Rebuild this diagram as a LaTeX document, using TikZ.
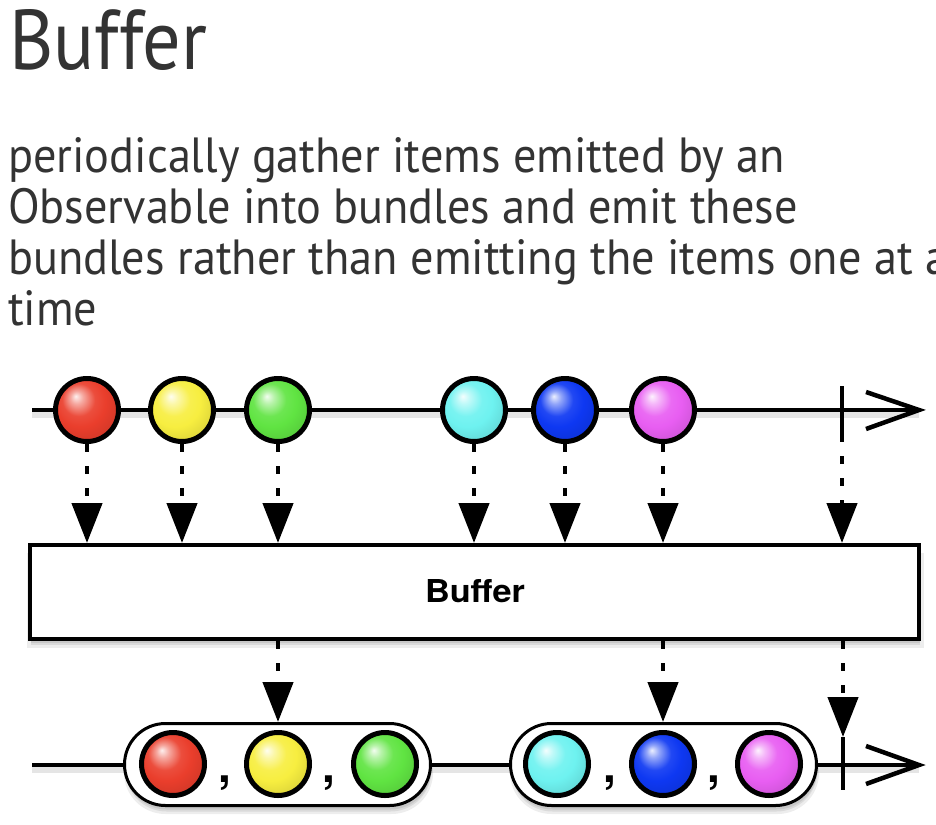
\documentclass[tikz,border=0pt]{standalone}
\usepackage{fontspec}
\setmainfont{PT Sans}
\newfontfamily\heros{TeX Gyre Heros}
\usetikzlibrary{arrows.meta,shadows}
\definecolor{txt}{HTML}{333333}
\definecolor{cRed}{RGB}{234,62,44}
\definecolor{cYel}{RGB}{247,238,64}
\definecolor{cGrn}{RGB}{96,228,66}
\definecolor{cCya}{RGB}{110,242,240}
\definecolor{cBlu}{RGB}{14,56,242}
\definecolor{cMag}{RGB}{232,94,242}
\colorlet{mball}{red}
\pgfdeclareradialshading[mball]{marble}{\pgfqpoint{-9bp}{11bp}}{%
  color(0bp)=(mball!8!white);
  color(5bp)=(mball!45!white);
  color(13bp)=(mball!92!white);
  color(20bp)=(mball);
  color(30bp)=(mball!90!black);
  color(50bp)=(mball!72!black)}
\newlength\Lw
\newlength\Lh
\newcommand\bodyf{\fontsize{46pt}{50pt}\selectfont}
\tikzset{
  marble/.style={circle, draw=black, line width=5pt, minimum size=#1, inner sep=0pt, shade, shading=marble},
  mc/.code={\colorlet{mball}{#1}},
  txtnode/.style={anchor=base west, inner sep=0pt, text=txt},
  softsh/.style={
    general shadow={fill=black, opacity=.07, shadow xshift=1pt, shadow yshift=-8pt, shadow scale=1.01},
    general shadow={fill=black, opacity=.08, shadow xshift=1pt, shadow yshift=-6pt},
    general shadow={fill=black, opacity=.08, shadow xshift=1pt, shadow yshift=-4pt}},
  bundle/.style={draw, line width=3pt, fill=white, rounded corners=41pt, inner sep=0pt, minimum width=306pt, minimum height=82pt, softsh},
  tline/.style={line width=4pt},
  lsh/.style={line width=8pt, draw=black, opacity=.10},
  chev/.style={line width=4.5pt, line join=miter},
  tick/.style={line width=4.5pt},
  dar/.style={line width=4.5pt, dash pattern=on 8pt off 14pt, -{Triangle[width=30pt,length=40pt]}},
  comma/.style={anchor=north, inner sep=0pt, font={\heros\bfseries\fontsize{46pt}{46pt}\selectfont}}
}
\begin{document}
\settowidth\Lw{\bodyf periodically gather items emitted by an}%
\settoheight\Lh{\bodyf periodically gather items emitted by an}%
\pgfmathsetmacro\bxs{777/\Lw}%
\pgfmathsetmacro\bys{35/\Lh}%
\begin{tikzpicture}[x=1pt,y=-1pt]
\useasboundingbox (0,0) rectangle (936,824);
\clip (0,0) rectangle (936,824);
\fill[white] (0,0) rectangle (936,824);

% ---------- texts ----------
\node[txtnode] (title) at (9,70) {\resizebox{198pt}{60pt}{Buffer}};
\node[txtnode] (l1) at (8,172) {\scalebox{\bxs}[\bys]{\bodyf periodically gather items emitted by an}};
\node[txtnode] (l2) at (8,223) {\scalebox{\bxs}[\bys]{\bodyf Observable into bundles and emit these}};
\node[txtnode] (l3) at (8,274) {\scalebox{\bxs}[\bys]{\bodyf bundles rather than emitting the items one at a}};
\node[txtnode] (l4) at (8,325) {\scalebox{\bxs}[\bys]{\bodyf time}};

% ---------- top timeline ----------
\coordinate (s1) at (32,410);
\coordinate (e1) at (919,410);
\coordinate (tk1t) at (842,386);
\coordinate (tk1b) at (842,442);
\draw[lsh] ([yshift=-4pt]s1) -- ([yshift=-4pt]e1);
\draw[tline] (s1) -- (e1);
\draw[chev] (e1) ++(-53,-18) -- (e1) -- ++(-53,19);
\draw[tick] (tk1t) -- (tk1b);

\node[marble=63pt, mc=cRed] (t1) at (87,410) {};
\node[marble=63pt, mc=cYel] (t2) at (182,410) {};
\node[marble=63pt, mc=cGrn] (t3) at (278,410) {};
\node[marble=63pt, mc=cCya] (t4) at (474,410) {};
\node[marble=63pt, mc=cBlu] (t5) at (565,410) {};
\node[marble=63pt, mc=cMag] (t6) at (663,410) {};

% ---------- operator box ----------
\node[draw, line width=4pt, fill=white, minimum width=889pt, minimum height=94pt, inner sep=0pt, softsh] (buf) at (474.5,592) {};
\node[inner sep=0pt, anchor=base] (buflbl) at (475,602) {\resizebox{100pt}{23pt}{\heros\bfseries Buffer}};

% ---------- arrows into the box ----------
\foreach \m in {t1,t2,t3,t4,t5,t6}{
  \draw[dar] (\m.south) -- (\m.south |- buf.north);
}
\draw[dar, dash phase=8pt] (tk1b) -- (tk1b |- buf.north);

% ---------- bottom timeline ----------
\coordinate (s2) at (32,765);
\coordinate (e2) at (919,765);
\coordinate (tk2t) at (843,737);
\coordinate (tk2b) at (843,790);
\draw[lsh] ([yshift=-4pt]s2) -- ([yshift=-4pt]e2);
\draw[tline] (s2) -- (e2);
\draw[chev] (e2) ++(-53,-19) -- (e2) -- ++(-53,19);
\draw[tick] (tk2t) -- (tk2b);

\node[bundle] (bd1) at (277.5,764.5) {};
\node[bundle] (bd2) at (663.5,764.5) {};

\node[marble=63pt, mc=cRed] (b1) at (173,764) {};
\node[marble=63pt, mc=cYel] (b2) at (278,764) {};
\node[marble=63pt, mc=cGrn] (b3) at (385,764) {};
\node[marble=63pt, mc=cCya] (b4) at (557,764) {};
\node[marble=63pt, mc=cBlu] (b5) at (663,764) {};
\node[marble=63pt, mc=cMag] (b6) at (769,764) {};

\node[comma] (c1) at (225,776) {,};
\node[comma] (c2) at (329,776) {,};
\node[comma] (c3) at (610,776) {,};
\node[comma] (c4) at (714,776) {,};

% ---------- arrows out of the box ----------
\draw[dar] (buf.south -| b2) -- (b2 |- bd1.north);
\draw[dar] (buf.south -| b5) -- (b5 |- bd2.north);
\draw[dar] (buf.south -| tk2t) -- (tk2t);
\end{tikzpicture}
\end{document}
